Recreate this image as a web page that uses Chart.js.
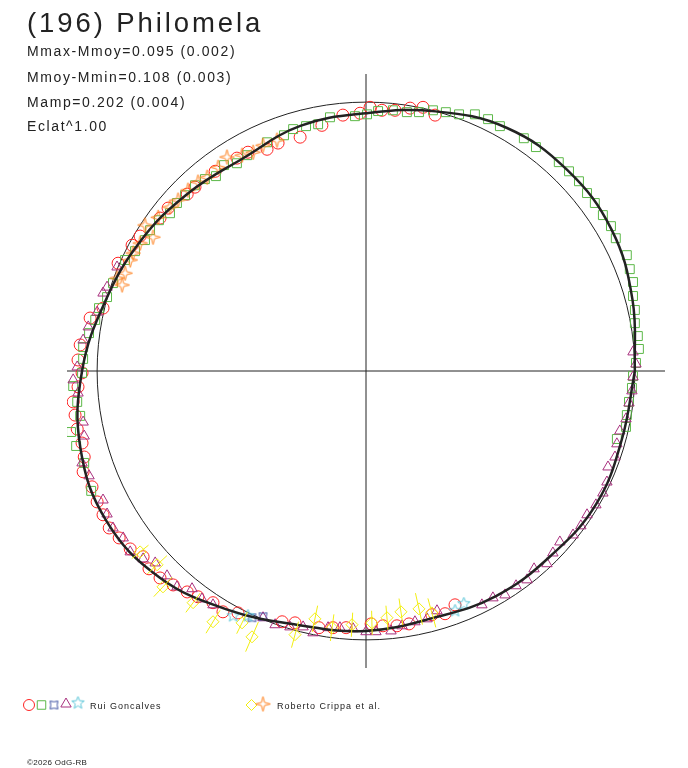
<!DOCTYPE html>
<html>
<head>
<meta charset="utf-8">
<script src="https://cdn.jsdelivr.net/npm/chart.js@4.4.1/dist/chart.umd.min.js"></script>
<style>
    body { margin: 0; background: #fff; }
    #wrap { position: relative; width: 688px; height: 768px; overflow: hidden; font-family: "Liberation Sans", Arial, sans-serif; color: #222; }
    #chart { position: absolute; left: 0; top: 0; }
    .t { position: absolute; white-space: nowrap; line-height: 1; }
    .title { left: 27px; top: 9px; font-size: 27.5px; letter-spacing: 2.9px; }
    .info { left: 27px; font-size: 14px; letter-spacing: 1.6px; }
    .leg { font-size: 9px; letter-spacing: 1px; top: 702px; }
    .copy { left: 27px; top: 759px; font-size: 8px; letter-spacing: 0.3px; }
</style>
</head>
<body>
<div id="wrap">
    <canvas id="chart" width="688" height="768"></canvas>
    <div class="t title">(196) Philomela</div>
    <div class="t info" style="top:44px">Mmax-Mmoy=0.095 (0.002)</div>
    <div class="t info" style="top:69.5px">Mmoy-Mmin=0.108 (0.003)</div>
    <div class="t info" style="top:95px">Mamp=0.202 (0.004)</div>
    <div class="t info" style="top:119px">Eclat^1.00</div>
    <div class="t leg" style="left:90px">Rui Goncalves</div>
    <div class="t leg" style="left:277px">Roberto Crippa et al.</div>
    <div class="t copy">©2026 OdG-RB</div>
</div>
<script>
// Polar light curve, radius 1 = reference circle
const fitAngle = [0, 15, 30, 45, 60, 75, 90, 105, 120, 135, 150, 165, 180, 195, 210, 225, 240, 255, 270, 285, 300, 315, 330, 345];
const fitRadius = [1.000, 1.026, 1.054, 1.058, 1.045, 1.000, 0.959, 0.944, 0.914, 0.935, 0.968, 1.004, 1.056, 1.100, 1.115, 1.086, 1.026, 0.978, 0.967, 0.952, 0.967, 0.972, 0.989, 0.985];

// Rui Goncalves
const redCircles = [
    [-0.022, 0.959], [0.015, 0.981], [0.059, 0.970], [0.108, 0.970], [0.164, 0.978], [0.212, 0.981], [0.257, 0.952],
    [-0.086, 0.952], [-0.164, 0.914], [-0.245, 0.870], [-0.327, 0.848], [-0.368, 0.825], [-0.439, 0.814], [-0.480, 0.792],
    [-0.561, 0.743], [-0.636, 0.684], [-0.665, 0.658], [-0.736, 0.606], [-0.766, 0.569], [-0.840, 0.502], [-0.870, 0.468],
    [-0.922, 0.401], [-0.978, 0.234], [-1.026, 0.197], [-1.063, 0.097], [-1.071, 0.041], [-1.056, -0.007], [-1.071, -0.059],
    [-1.089, -0.115], [-1.082, -0.164], [-1.074, -0.216], [-1.056, -0.268], [-1.048, -0.320], [-1.052, -0.375], [-1.019, -0.431],
    [-1.000, -0.487], [-0.978, -0.535], [-0.955, -0.584], [-0.918, -0.621], [-0.877, -0.662], [-0.829, -0.691], [-0.807, -0.736],
    [-0.766, -0.770], [-0.717, -0.796], [-0.665, -0.822], [-0.625, -0.840], [-0.569, -0.862], [-0.532, -0.896], [-0.476, -0.900],
    [-0.312, -0.933], [-0.264, -0.937], [-0.175, -0.955], [-0.123, -0.955], [-0.074, -0.955], [0.019, -0.941], [0.063, -0.948],
    [0.115, -0.948], [0.160, -0.941], [0.245, -0.907], [0.294, -0.903], [0.331, -0.870]
];
const greenSquares = [
    [0.004, 0.955], [0.045, 0.967], [-0.041, 0.948], [0.100, 0.970], [0.152, 0.963], [0.197, 0.963], [0.249, 0.970],
    [0.297, 0.963], [0.346, 0.955], [0.405, 0.955], [0.454, 0.937], [0.498, 0.911], [0.587, 0.866], [0.632, 0.833],
    [0.717, 0.777], [0.755, 0.743], [0.792, 0.706], [0.822, 0.662], [0.851, 0.625], [0.881, 0.580], [0.911, 0.539],
    [0.929, 0.494], [0.970, 0.431], [0.981, 0.379], [0.993, 0.331], [0.993, 0.279], [1.000, 0.227], [1.000, 0.178],
    [1.011, 0.130], [1.015, 0.082], [1.004, 0.030], [0.993, -0.019], [0.989, -0.063], [0.978, -0.115], [0.970, -0.164],
    [0.967, -0.208], [0.933, -0.253], [-0.134, 0.944], [-0.178, 0.918], [-0.223, 0.911], [-0.271, 0.900], [-0.305, 0.877],
    [-0.368, 0.851], [-0.442, 0.803], [-0.480, 0.773], [-0.528, 0.766], [-0.558, 0.725], [-0.599, 0.714], [-0.636, 0.691],
    [-0.673, 0.654], [-0.703, 0.625], [-0.729, 0.587], [-0.770, 0.561], [-0.803, 0.524], [-0.822, 0.487], [-0.859, 0.446],
    [-0.896, 0.413], [-0.941, 0.327], [-0.963, 0.275], [-0.993, 0.234], [-1.007, 0.190], [-1.030, 0.141], [-1.052, 0.089],
    [-1.052, 0.045], [-1.056, -0.007], [-1.089, -0.056], [-1.074, -0.115], [-1.063, -0.167], [-1.097, -0.227], [-1.078, -0.279],
    [-1.048, -0.342], [-1.022, -0.446]
];
const blueMarks = [[-0.424, -0.918], [-0.383, -0.914]];
const purpleTriangles = [
    [-0.926, 0.387], [-0.963, 0.312], [-0.978, 0.290], [-1.000, 0.219], [-1.033, 0.164], [-1.052, 0.115], [-1.074, 0.015],
    [-1.089, -0.033], [-1.071, -0.082], [-1.052, -0.190], [-1.048, -0.242], [-1.056, -0.342], [-1.030, -0.390], [-0.978, -0.480],
    [-0.963, -0.532], [-0.941, -0.584], [-0.903, -0.621], [-0.877, -0.673], [-0.829, -0.699], [-0.784, -0.714], [-0.740, -0.762],
    [-0.703, -0.803], [-0.647, -0.810], [-0.610, -0.848], [-0.569, -0.870], [-0.383, -0.918], [-0.338, -0.944], [-0.283, -0.952],
    [-0.234, -0.952], [-0.197, -0.974], [-0.141, -0.955], [-0.097, -0.955], [-0.048, -0.959], [0.000, -0.970], [0.037, -0.970],
    [0.093, -0.967], [0.134, -0.948], [0.182, -0.933], [0.227, -0.922], [0.264, -0.892], [0.431, -0.870], [0.472, -0.844],
    [0.517, -0.833], [0.558, -0.799], [0.599, -0.777], [0.625, -0.736], [0.673, -0.717], [0.695, -0.677], [0.721, -0.636],
    [0.770, -0.610], [0.799, -0.576], [0.822, -0.535], [0.855, -0.498], [0.881, -0.454], [0.896, -0.413], [0.900, -0.357],
    [0.926, -0.320], [0.933, -0.271], [0.944, -0.223], [0.967, -0.178], [0.978, -0.119], [0.989, -0.074], [0.993, -0.022],
    [1.004, 0.026], [0.993, 0.071]
];
const cyanStars = [[-0.494, -0.911], [-0.439, -0.911], [0.331, -0.892], [0.364, -0.866]];

// Roberto Crippa et al.
const yellowDiamonds = [
    [-0.840, -0.673], [-0.777, -0.721], [-0.755, -0.803], [-0.643, -0.862], [-0.569, -0.933], [-0.461, -0.937], [-0.424, -0.989],
    [-0.264, -0.981], [-0.190, -0.922], [-0.126, -0.955], [-0.052, -0.944], [0.022, -0.937], [0.078, -0.918], [0.130, -0.896],
    [0.197, -0.885], [0.245, -0.900]
];
const yellowErr = [0.04, 0.05, 0.05, 0.045, 0.05, 0.045, 0.06, 0.05, 0.05, 0.05, 0.045, 0.045, 0.045, 0.05, 0.06, 0.056];
const orangeStars = [
    [-0.331, 0.859], [-0.383, 0.840], [-0.420, 0.814], [-0.461, 0.803], [-0.517, 0.796], [-0.550, 0.758], [-0.591, 0.721],
    [-0.625, 0.703], [-0.662, 0.673], [-0.699, 0.636], [-0.729, 0.610], [-0.773, 0.572], [-0.822, 0.543], [-0.792, 0.498],
    [-0.840, 0.476], [-0.866, 0.439], [-0.877, 0.413], [-0.896, 0.364], [-0.907, 0.320], [-0.926, 0.346]
];

const COLORS = {
    red: '#ff2424', green: '#5cb848', blue: '#3a4ea0', purple: '#a8307e',
    cyan: '#5cc6d8', yellow: '#f2ee10', orange: '#ff8424', ink: '#222'
};

// custom marker glyphs
function starPath(g, cx, cy, n, rOut, rIn, rot) {
    g.beginPath();
    for (let i = 0; i < n * 2; i++) {
        const r = i % 2 === 0 ? rOut : rIn;
        const a = rot + i * Math.PI / n;
        const px = cx + r * Math.cos(a), py = cy + r * Math.sin(a);
        if (i === 0) g.moveTo(px, py); else g.lineTo(px, py);
    }
    g.closePath();
}
function makeMarker(size, color, draw) {
    const c = document.createElement('canvas');
    c.width = c.height = size;
    const g = c.getContext('2d');
    g.strokeStyle = color;
    g.lineWidth = 1;
    draw(g, size / 2);
    g.stroke();
    return c;
}
const cyanStar = makeMarker(15, COLORS.cyan, (g, c) => starPath(g, c, c, 5, 6.5, 2.8, -Math.PI / 2));
const orangeStar = makeMarker(17, COLORS.orange, (g, c) => starPath(g, c, c, 4, 7.5, 2.2, -Math.PI / 2));
const blueMark = makeMarker(13, COLORS.blue, (g, c) => starPath(g, c, c, 4, 5.5, 3.2, -Math.PI / 4));

function toXY(list) {
    return list.map(p => ({ x: p[0], y: p[1] }));
}

const fitPoints = fitAngle.concat([360]).map((a, i) => {
    const r = fitRadius[i % fitRadius.length];
    const t = a * Math.PI / 180;
    return { x: r * Math.cos(t), y: r * Math.sin(t) };
});

// axes + reference circle behind the data, error bars and legend glyphs on top
const polarFrame = {
    id: 'polarFrame',
    beforeDatasetsDraw(chart) {
        const { ctx, chartArea, scales } = chart;
        const x0 = scales.x.getPixelForValue(0);
        const y0 = scales.y.getPixelForValue(0);
        const rad = scales.x.getPixelForValue(1) - x0;
        ctx.save();
        ctx.strokeStyle = COLORS.ink;
        ctx.lineWidth = 1;
        ctx.beginPath();
        ctx.moveTo(chartArea.left, y0);
        ctx.lineTo(chartArea.right, y0);
        ctx.moveTo(x0, chartArea.top);
        ctx.lineTo(x0, chartArea.bottom);
        ctx.stroke();
        ctx.beginPath();
        ctx.arc(x0, y0, rad, 0, Math.PI * 2);
        ctx.stroke();
        ctx.restore();
    },
    afterDatasetsDraw(chart) {
        const { ctx, scales } = chart;
        ctx.save();
        ctx.strokeStyle = COLORS.yellow;
        ctx.lineWidth = 1;
        yellowDiamonds.forEach((p, i) => {
            const r = Math.hypot(p[0], p[1]);
            const k1 = (r - yellowErr[i]) / r, k2 = (r + yellowErr[i]) / r;
            ctx.beginPath();
            ctx.moveTo(scales.x.getPixelForValue(p[0] * k1), scales.y.getPixelForValue(p[1] * k1));
            ctx.lineTo(scales.x.getPixelForValue(p[0] * k2), scales.y.getPixelForValue(p[1] * k2));
            ctx.stroke();
        });
        ctx.restore();
    },
    afterDraw(chart) {
        const ctx = chart.ctx;
        const draw = (style, color, r, x, y) => {
            ctx.save();
            ctx.strokeStyle = color;
            ctx.fillStyle = 'transparent';
            ctx.lineWidth = 1;
            Chart.helpers.drawPoint(ctx, { pointStyle: style, radius: r, borderWidth: 1, rotation: 0 }, x, y);
            ctx.restore();
        };
        draw('circle', COLORS.red, 5.5, 29, 705);
        draw('rect', COLORS.green, 6, 41.5, 705);
        draw(blueMark, COLORS.blue, 5, 54, 705);
        draw('triangle', COLORS.purple, 6, 66, 704);
        draw(cyanStar, COLORS.cyan, 6, 78, 703);
        draw('rectRot', COLORS.yellow, 5.5, 251.5, 705);
        draw(orangeStar, COLORS.orange, 6, 263, 704);
    }
};

function markerSet(label, list, style, color, radius) {
    return {
        label: label,
        data: toXY(list),
        pointStyle: style,
        pointRadius: radius,
        borderColor: color,
        backgroundColor: 'transparent',
        borderWidth: 1,
        showLine: false
    };
}

new Chart(document.getElementById('chart'), {
    type: 'scatter',
    data: {
        datasets: [
            {
                label: 'fit',
                data: fitPoints,
                showLine: true,
                pointRadius: 0,
                borderColor: COLORS.ink,
                borderWidth: 2.5,
                tension: 0.4,
                fill: false
            },
            markerSet('Rui Goncalves 4', cyanStars, cyanStar, COLORS.cyan, 6),
            markerSet('Rui Goncalves 3', blueMarks, blueMark, COLORS.blue, 5),
            markerSet('Roberto Crippa 1', yellowDiamonds, 'rectRot', COLORS.yellow, 6),
            markerSet('Roberto Crippa 2', orangeStars, orangeStar, COLORS.orange, 7),
            markerSet('Rui Goncalves 5', purpleTriangles, 'triangle', COLORS.purple, 6),
            markerSet('Rui Goncalves 2', greenSquares, 'rect', COLORS.green, 6.3),
            markerSet('Rui Goncalves 1', redCircles, 'circle', COLORS.red, 6)
        ]
    },
    options: {
        responsive: false,
        animation: false,
        devicePixelRatio: 1,
        layout: { padding: { left: 67, right: 23, top: 74, bottom: 100 } },
        scales: {
            x: { type: 'linear', min: -1.112, max: 1.112, display: false },
            y: { type: 'linear', min: -1.105, max: 1.105, display: false }
        },
        plugins: {
            legend: { display: false },
            tooltip: { enabled: false }
        }
    },
    plugins: [polarFrame]
});
</script>
</body>
</html>
